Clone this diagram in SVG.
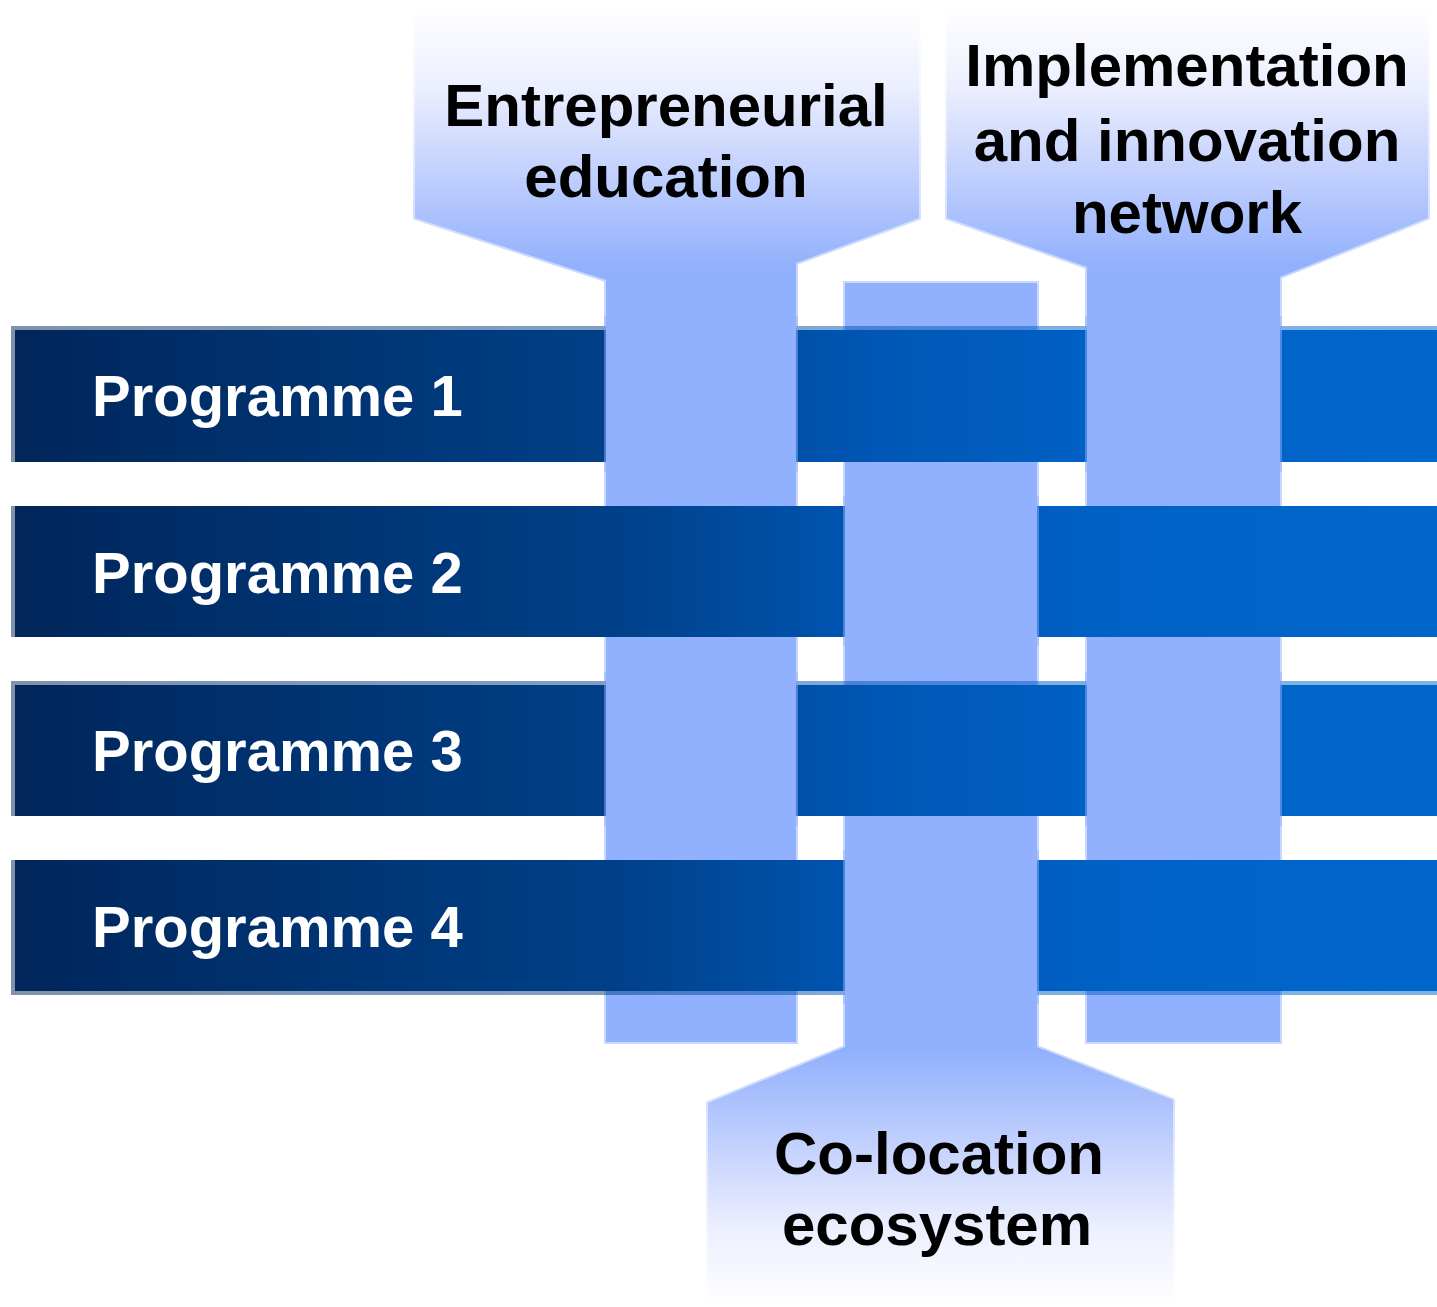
<svg xmlns="http://www.w3.org/2000/svg" width="1437" height="1307" viewBox="0 0 1437 1307">
  <style>
    .head-text { font-family: "Liberation Sans", Arial, sans-serif; font-weight: bold; font-size: 60px; fill: #000000; text-anchor: middle; }
    .prog-text { font-family: "Liberation Sans", Arial, sans-serif; font-weight: bold; font-size: 58px; fill: #ffffff; }
    .bar { fill: url(#barGrad); }
    .bar-edge { fill: none; stroke: url(#barGrad); stroke-opacity: 0.5; stroke-width: 4; }
    .stem { fill: #91b0fd; stroke: #91b0fd; stroke-opacity: 0.5; stroke-width: 4; }
  </style>
  <defs>
    <linearGradient id="barGrad" gradientUnits="userSpaceOnUse" x1="15" y1="0" x2="1437" y2="0">
      <stop offset="0" stop-color="#00265a"/>
      <stop offset="0.42" stop-color="#004088"/>
      <stop offset="0.6" stop-color="#0056b4"/>
      <stop offset="0.78" stop-color="#0062c6"/>
      <stop offset="1" stop-color="#0066cc"/>
    </linearGradient>
    <linearGradient id="headTop" gradientUnits="userSpaceOnUse" x1="0" y1="8" x2="0" y2="268">
      <stop offset="0" stop-color="#ffffff"/>
      <stop offset="0.3" stop-color="#eceffe"/>
      <stop offset="0.6" stop-color="#c6d3fd"/>
      <stop offset="1" stop-color="#91b0fd"/>
    </linearGradient>
    <linearGradient id="headBottom" gradientUnits="userSpaceOnUse" x1="0" y1="1305" x2="0" y2="1050">
      <stop offset="0" stop-color="#ffffff"/>
      <stop offset="0.3" stop-color="#eceffe"/>
      <stop offset="0.6" stop-color="#c6d3fd"/>
      <stop offset="1" stop-color="#91b0fd"/>
    </linearGradient>
  </defs>

  <rect x="0" y="0" width="1437" height="1307" fill="#ffffff"/>

  <g id="pillars">
    <g id="pillar-entrepreneurial-education">
      <path d="M415,5 L919,5 L919,218 L796,263 L796,1042 L606,1042 L606,280 L415,218 Z" fill="url(#headTop)" stroke="url(#headTop)" stroke-opacity="0.5" stroke-width="4"/>
      <text class="head-text" x="666" y="126">Entrepreneurial</text>
      <text class="head-text" x="666" y="197">education</text>
    </g>
    <g id="pillar-co-location-ecosystem">
      <path d="M845,283 L1037,283 L1037,1047 L1173,1100 L1173,1307 L708,1307 L708,1103 L845,1047 Z" fill="url(#headBottom)" stroke="url(#headBottom)" stroke-opacity="0.5" stroke-width="4"/>
      <text class="head-text" x="939" y="1174">Co-location</text>
      <text class="head-text" x="937" y="1245">ecosystem</text>
    </g>
    <g id="pillar-implementation-innovation-network">
      <path d="M947,5 L1428,5 L1428,218 L1280,277 L1280,1042 L1087,1042 L1087,267 L947,218 Z" fill="url(#headTop)" stroke="url(#headTop)" stroke-opacity="0.5" stroke-width="4"/>
      <text class="head-text" x="1187" y="86">Implementation</text>
      <text class="head-text" x="1187" y="161">and innovation</text>
      <text class="head-text" x="1187" y="233">network</text>
    </g>
  </g>

  <g id="programmes">
    <g id="programme-1">
      <rect class="bar" x="15" y="330" width="1422" height="132"/>
      <path class="bar-edge" d="M13,462 L13,328 L1437,328"/>
      <text class="prog-text" x="92" y="416">Programme 1</text>
    </g>
    <g id="programme-2">
      <rect class="bar" x="15" y="506" width="1422" height="131"/>
      <path class="bar-edge" d="M13,506 L13,637"/>
      <text class="prog-text" x="92" y="593">Programme 2</text>
    </g>
    <g id="programme-3">
      <rect class="bar" x="15" y="685" width="1422" height="131"/>
      <path class="bar-edge" d="M13,816 L13,683 L1437,683"/>
      <text class="prog-text" x="92" y="771">Programme 3</text>
    </g>
    <g id="programme-4">
      <rect class="bar" x="15" y="860" width="1422" height="131"/>
      <path class="bar-edge" d="M13,860 L13,993 L1437,993"/>
      <text class="prog-text" x="92" y="947">Programme 4</text>
    </g>
  </g>

  <g id="weave-overlays">
    <rect class="stem" x="606" y="318" width="190" height="152"/>
    <rect class="stem" x="606" y="674" width="190" height="150"/>
    <rect class="stem" x="1087" y="318" width="193" height="152"/>
    <rect class="stem" x="1087" y="674" width="193" height="150"/>
    <rect class="stem" x="845" y="498" width="192" height="146"/>
    <rect class="stem" x="845" y="852" width="192" height="150"/>
  </g>
</svg>
